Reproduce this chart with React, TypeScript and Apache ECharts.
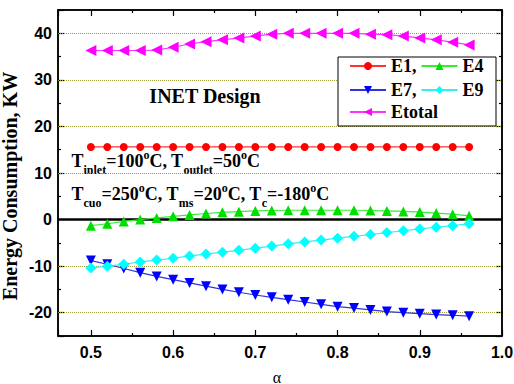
import { useEffect, useRef } from "react";
import * as echarts from "echarts";

// Split ratio alpha (x) and energy use of each unit, kW
const alpha = [0.5, 0.52, 0.54, 0.56, 0.58, 0.6, 0.62, 0.64, 0.66, 0.68, 0.7, 0.72, 0.74, 0.76, 0.78, 0.8, 0.82, 0.84, 0.86, 0.88, 0.9, 0.92, 0.94, 0.96];
const e1 = [15.6, 15.6, 15.6, 15.6, 15.6, 15.6, 15.6, 15.6, 15.6, 15.6, 15.6, 15.6, 15.6, 15.6, 15.6, 15.6, 15.6, 15.6, 15.6, 15.6, 15.6, 15.6, 15.6, 15.6];
const e4 = [-1.3, -0.9, -0.4, 0.0, 0.35, 0.7, 1.0, 1.3, 1.55, 1.7, 1.85, 1.95, 2.0, 2.0, 2.0, 2.0, 2.0, 1.95, 1.85, 1.75, 1.6, 1.4, 1.15, 0.8];
const e7 = [-8.8, -9.6, -10.5, -11.4, -12.2, -12.9, -13.6, -14.3, -15.0, -15.6, -16.2, -16.7, -17.2, -17.7, -18.2, -18.7, -19.0, -19.4, -19.75, -20.0, -20.2, -20.4, -20.55, -20.75];
const e9 = [-10.4, -10.0, -9.6, -9.1, -8.7, -8.3, -7.8, -7.4, -7.0, -6.6, -6.15, -5.7, -5.2, -4.8, -4.4, -4.0, -3.6, -3.2, -2.8, -2.4, -2.0, -1.65, -1.3, -0.9];
const eTotal = [36.3, 36.3, 36.3, 36.3, 36.4, 37.0, 37.7, 38.2, 38.6, 39.0, 39.4, 39.8, 40.0, 40.0, 40.0, 40.0, 40.0, 39.8, 39.7, 39.4, 39.0, 38.6, 38.1, 37.5];

// Dotted reference levels (the zero level is drawn solid)
const gridLevels = [-20, -10, 10, 20, 30, 40];

// Operating conditions: [text, role] where role is m = main, s = subscript, p = superscript
type Run = [string, "m" | "s" | "p"];
const conditionsLine1: Run[] = [["T", "m"], ["inlet", "s"], ["=100", "m"], ["o", "p"], ["C, T", "m"], ["outlet", "s"], ["=50", "m"], ["o", "p"], ["C", "m"]];
const conditionsLine2: Run[] = [["T", "m"], ["cuo", "s"], ["=250", "m"], ["o", "p"], ["C, T", "m"], ["ms", "s"], ["=20", "m"], ["o", "p"], ["C, T", "m"], ["c", "s"], ["=-180", "m"], ["o", "p"], ["C", "m"]];

const X_MIN = 0.46;
const X_MAX = 1.0;
const Y_MIN = -25;
const Y_MAX = 45;

const SERIF = "'Liberation Serif', 'Times New Roman', serif";
const SANS = "'Liberation Sans', Arial, sans-serif";

const pair = (ys: number[]) => alpha.map((x, i) => [x, ys[i]]);
const onStep = (v: number, step: number) => Math.abs(v / step - Math.round(v / step)) < 1e-6;

const RUN_SIZE = { m: 18, s: 12, p: 12 };
const RUN_SHIFT = { m: 0, s: 9.2, p: -5.8 };

// Lays out a line of text with sub/superscripts as consecutive text elements
function conditionTexts(runs: Run[], x0: number, yMid: number) {
  const ctx = document.createElement("canvas").getContext("2d");
  let x = x0;
  return runs.map(([text, role]) => {
    const size = RUN_SIZE[role];
    const font = `bold ${size}px ${SERIF}`;
    let w = text.length * size * 0.5;
    if (ctx) {
      ctx.font = font;
      w = ctx.measureText(text).width;
    }
    const el = {
      type: "text",
      x,
      y: yMid + RUN_SHIFT[role],
      style: { text, fontFamily: SERIF, fontWeight: "bold", fontSize: size, fill: "#000", align: "left", verticalAlign: "middle" },
    };
    x += w;
    return el;
  });
}

function xAxisDef(position: "bottom" | "top", withLabels: boolean) {
  return {
    type: "value",
    position,
    min: X_MIN,
    max: X_MAX,
    axisLine: { show: true, onZero: false, lineStyle: { color: "#000", width: 1.5 } },
    axisTick: { show: true, inside: true, length: 6, lineStyle: { color: "#000", width: 1.2 } },
    minorTick: { show: true, splitNumber: 2, length: 3, lineStyle: { color: "#000", width: 1.2 } },
    axisLabel: {
      show: withLabels,
      margin: 8,
      formatter: (v: number) => (onStep(v, 0.1) ? v.toFixed(1) : ""),
      fontFamily: SANS,
      fontWeight: "bold",
      fontSize: 16,
      color: "#000",
    },
    splitLine: { show: false },
  };
}

function yAxisDef(position: "left" | "right", withLabels: boolean) {
  return {
    type: "value",
    position,
    min: Y_MIN,
    max: Y_MAX,
    axisLine: { show: true, onZero: false, lineStyle: { color: "#000", width: 1.5 } },
    axisTick: { show: true, inside: true, length: 6, lineStyle: { color: "#000", width: 1.2 } },
    minorTick: { show: true, splitNumber: 2, length: 3, lineStyle: { color: "#000", width: 1.2 } },
    axisLabel: {
      show: withLabels,
      margin: 6,
      formatter: (v: number) => (onStep(v, 10) ? String(v) : ""),
      fontFamily: SANS,
      fontWeight: "bold",
      fontSize: 16,
      color: "#000",
    },
    splitLine: { show: false },
  };
}

function lineSeries(name: string, ys: number[], color: string, lineColor: string, symbol: string, size: number, rotate = 0) {
  return {
    type: "line",
    name,
    data: pair(ys),
    symbol,
    symbolSize: size,
    symbolRotate: rotate,
    itemStyle: { color },
    lineStyle: { color: lineColor, width: 1.2 },
  };
}

const legendBase = {
  orient: "horizontal",
  left: 349,
  padding: 0,
  itemGap: 4,
  itemWidth: 36,
  itemHeight: 10,
  z: 5,
  textStyle: { fontFamily: SERIF, fontWeight: "bold", fontSize: 18, color: "#000" },
  formatter: (n: string) => (n === "E1" || n === "E7" ? n + "," : n),
};

export default function App() {
  const ref = useRef<HTMLDivElement>(null);

  useEffect(() => {
    if (!ref.current) return;
    document.body.style.margin = "0";
    const chart = echarts.init(ref.current, undefined, { renderer: "svg" });
    chart.setOption({
      animation: false,
      backgroundColor: "#fff",
      grid: { left: 58, right: 12, top: 10, bottom: 48, outerBoundsMode: "none", show: true, borderColor: "#000", borderWidth: 1.5 },
      xAxis: [xAxisDef("bottom", true), xAxisDef("top", false)],
      yAxis: [yAxisDef("left", true), yAxisDef("right", false)],
      legend: [
        { ...legendBase, top: 57, data: ["E1", "E4"] },
        { ...legendBase, top: 81, data: ["E7", "E9"] },
        { ...legendBase, top: 103, data: ["Etotal"] },
      ],
      graphic: [
        {
          type: "rect",
          z: 3,
          shape: { x: 338, y: 57, width: 158, height: 69 },
          style: { fill: "#fff", stroke: "#000", lineWidth: 1 },
        },
        {
          type: "text",
          x: 9.5,
          y: 186,
          rotation: Math.PI / 2,
          style: { text: "Energy Consumption, KW", fontFamily: SERIF, fontWeight: "bold", fontSize: 20, fill: "#000", align: "center", verticalAlign: "middle" },
        },
        {
          type: "text",
          x: 277,
          y: 377,
          style: { text: "α", fontFamily: SERIF, fontSize: 16, fill: "#000", align: "center", verticalAlign: "middle" },
        },
        {
          type: "text",
          x: 205,
          y: 96,
          style: { text: "INET Design", fontFamily: SERIF, fontWeight: "bold", fontSize: 20, fill: "#000", align: "center", verticalAlign: "middle" },
        },
        ...conditionTexts(conditionsLine1, 71.5, 160.6),
        ...conditionTexts(conditionsLine2, 71.5, 193.9),
      ],
      series: [
        lineSeries("E1", e1, "#ff0000", "#ff3333", "circle", 8),
        lineSeries("E4", e4, "#00e000", "#33ee33", "triangle", 10),
        lineSeries("E7", e7, "#0000ff", "#3333dd", "triangle", 10, 180),
        lineSeries("E9", e9, "#00ffff", "#33eeee", "diamond", 11),
        {
          ...lineSeries("Etotal", eTotal, "#ff00ff", "#ff33ff", "triangle", 11, 90),
          markLine: {
            silent: true,
            symbol: "none",
            z: 1,
            label: { show: false },
            data: [
              ...gridLevels.map((v) => ({ yAxis: v, lineStyle: { color: "#9c9c3c", type: "dotted", width: 1 } })),
              { yAxis: 0, lineStyle: { color: "#000", type: "solid", width: 2.5 } },
            ],
          },
        },
      ],
    });
    return () => chart.dispose();
  }, []);

  return <div ref={ref} style={{ width: 514, height: 384 }} />;
}
